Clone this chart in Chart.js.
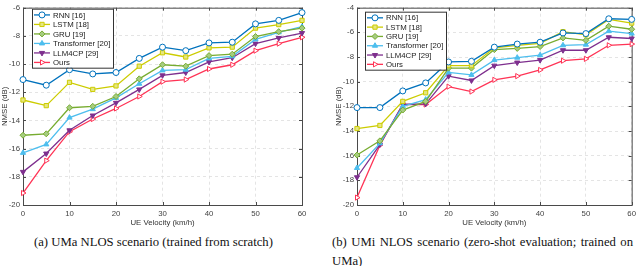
<!DOCTYPE html>
<html>
<head>
<meta charset="utf-8">
<script src="https://cdn.jsdelivr.net/npm/chart.js@4.4.1/dist/chart.umd.min.js"></script>
<style>
  body { margin: 0; background: #fff; width: 640px; height: 266px; overflow: hidden; position: relative; }
  .plot { position: absolute; top: 0; }
  .cap { position: absolute; font-family: "Liberation Serif", "Times New Roman", serif; font-size: 12.7px; line-height: 14px; color: #111; white-space: nowrap; }
</style>
</head>
<body>
<canvas id="uma" class="plot" width="320" height="228" style="left:0"></canvas>
<canvas id="umi" class="plot" width="320" height="228" style="left:320px"></canvas>
<div class="cap" style="left:34px; top:235px;">(a) UMa NLOS scenario (trained from scratch)</div>
<div class="cap" style="left:332px; top:235px; width:301px; text-align:justify; text-align-last:justify;">(b) UMi NLOS scenario (zero-shot evaluation; trained on</div>
<div class="cap" style="left:332px; top:254px;">UMa)</div>
<script>
// data
const velocity = [0, 5, 10, 15, 20, 25, 30, 35, 40, 45, 50, 55, 60];
const seriesNames = ['RNN [16]', 'LSTM [18]', 'GRU [19]', 'Transformer [20]', 'LLM4CP [29]', 'Ours'];

// (a) UMa NLOS
const umaRnn = [-11.1, -11.5, -10.4, -10.7, -10.6, -9.6, -8.8, -9.05, -8.5, -8.45, -7.15, -6.9, -6.35];
const umaLstm = [-12.55, -12.95, -11.3, -11.8, -11.55, -10.15, -9.2, -9.5, -8.85, -8.8, -7.45, -7.2, -6.9];
const umaGru = [-15.05, -14.95, -13.1, -13.0, -12.3, -11.05, -10.05, -10.15, -9.4, -9.3, -8.05, -7.7, -7.45];
const umaTrans = [-16.3, -15.7, -13.8, -13.2, -12.4, -11.4, -10.45, -10.4, -9.6, -9.45, -8.25, -7.75, -7.35];
const umaLlm = [-17.65, -16.35, -14.7, -13.65, -12.75, -11.8, -10.8, -10.6, -9.85, -9.55, -8.55, -8.15, -7.8];
const umaOurs = [-19.15, -16.85, -14.8, -13.9, -13.15, -12.3, -11.25, -11.1, -10.35, -10.05, -9.05, -8.55, -8.1];

// (b) UMi NLOS
const umiRnn = [-12.1, -12.1, -10.75, -10.1, -8.4, -8.35, -7.2, -6.95, -6.8, -6.05, -6.1, -4.9, -4.95];
const umiLstm = [-13.8, -13.55, -11.6, -10.9, -8.7, -8.7, -7.25, -7.05, -6.9, -5.95, -6.2, -4.95, -5.25];
const umiGru = [-15.95, -14.8, -12.3, -11.6, -8.9, -8.9, -7.4, -7.3, -7.15, -6.45, -6.65, -5.5, -5.75];
const umiTrans = [-17.0, -15.0, -12.0, -11.45, -9.25, -9.45, -8.25, -8.05, -7.85, -7.05, -7.0, -5.9, -6.1];
const umiLlm = [-17.75, -15.1, -11.85, -11.8, -9.55, -9.9, -8.7, -8.45, -8.25, -7.45, -7.45, -6.4, -6.5];
const umiOurs = [-19.4, -15.15, -11.85, -11.85, -10.4, -10.8, -9.85, -9.55, -9.05, -8.3, -8.15, -7.05, -6.95];

const colors = ['#0072BD', '#CCCC00', '#77AC30', '#4DBEEE', '#7E2F8E', '#FF3355'];
const fills = ['#ffffff', '#E6E680', '#A6CC80', '#4DBEEE', '#7E2F8E', '#ffffff'];
const styles = ['circle', 'rect', 'rectRot', 'triangle', 'triangle', 'triangle'];
const rotations = [0, 0, 0, 0, 180, 90];

const FONT = '"Liberation Sans", Arial, sans-serif';

function makeSets(series) {
    return series.map((vals, i) => ({
        label: seriesNames[i],
        data: vals.map((v, j) => ({ x: velocity[j], y: v })),
        borderColor: colors[i],
        backgroundColor: fills[i],
        borderWidth: 1.3,
        pointStyle: styles[i],
        pointRotation: rotations[i],
        pointRadius: 3,
        pointBorderWidth: 1,
        pointBackgroundColor: fills[i],
        pointBorderColor: colors[i],
        tension: 0,
        clip: false
    }))
}

// axes box + inward ticks
const frame = {
    id: 'frame',
    beforeDatasetsDraw(chart) {
        const ctx = chart.ctx;
        const a = chart.chartArea;
        ctx.save();
        ctx.strokeStyle = '#4a4a4a';
        ctx.lineWidth = 1;
        ctx.strokeRect(a.left + 0.5, a.top + 0.5, a.right - a.left, a.bottom - a.top);
        const xs = chart.scales.x, ys = chart.scales.y;
        ctx.beginPath();
        xs.ticks.forEach(t => {
            const px = Math.round(xs.getPixelForValue(t.value)) + 0.5;
            ctx.moveTo(px, a.bottom); ctx.lineTo(px, a.bottom - 3);
            ctx.moveTo(px, a.top); ctx.lineTo(px, a.top + 3);
        });
        ys.ticks.forEach(t => {
            const py = Math.round(ys.getPixelForValue(t.value)) + 0.5;
            ctx.moveTo(a.left, py); ctx.lineTo(a.left + 3, py);
            ctx.moveTo(a.right, py); ctx.lineTo(a.right - 3, py);
        });
        ctx.stroke();
        ctx.restore();
    }
};

// legend box inside the axes
const boxLegend = {
    id: 'boxLegend',
    afterDatasetsDraw(chart, args, opts) {
        const ctx = chart.ctx;
        const a = chart.chartArea;
        const x0 = a.left + opts.dx, y0 = a.top + opts.dy;
        const sets = chart.data.datasets;
        ctx.save();
        ctx.font = '7.8px ' + FONT;
        let tw = 0;
        sets.forEach(d => { tw = Math.max(tw, ctx.measureText(d.label).width) });
        const w = Math.round(21 + tw + 3), h = Math.round(sets.length * opts.row + 2);
        ctx.fillStyle = '#fff';
        ctx.fillRect(x0, y0, w, h);
        ctx.strokeStyle = '#333';
        ctx.lineWidth = 1;
        ctx.strokeRect(x0 + 0.5, y0 + 0.5, w, h);
        sets.forEach((d, i) => {
            const cy = y0 + 1.5 + opts.row * (i + 0.5);
            ctx.strokeStyle = d.borderColor;
            ctx.lineWidth = d.borderWidth;
            ctx.beginPath();
            ctx.moveTo(x0 + 2, cy); ctx.lineTo(x0 + 18, cy);
            ctx.stroke();
            ctx.fillStyle = d.pointBackgroundColor;
            ctx.lineWidth = 1;
            Chart.helpers.drawPoint(ctx, {
                pointStyle: d.pointStyle, rotation: d.pointRotation, radius: d.pointRadius, borderWidth: 1
            }, x0 + 10, cy);
            ctx.fillStyle = '#222';
            ctx.textBaseline = 'middle';
            ctx.fillText(d.label, x0 + 21, cy + 0.5);
        });
        ctx.restore();
    }
};

function renderChart(id, series, yMin, yMax, padLeft, padRight, legendPos) {
    const ctx = document.getElementById(id);
    return new Chart(ctx, {
        type: 'line',
        data: { datasets: makeSets(series) },
        options: {
            responsive: false,
            animation: false,
            layout: { padding: { left: padLeft, right: padRight, top: 3, bottom: 0 } },
            plugins: {
                legend: { display: false },
                tooltip: { enabled: false },
                boxLegend: legendPos
            },
            scales: {
                x: {
                    type: 'linear',
                    min: 0,
                    max: 60,
                    afterFit: (s) => { s.height = 23 },
                    ticks: { stepSize: 10, padding: 4, color: '#444', font: { family: FONT, size: 7.8 }, maxRotation: 0 },
                    grid: { color: '#dddddd', drawTicks: false, lineWidth: 0.8 },
                    border: { display: false, dash: [3, 3] },
                    title: { display: true, text: 'UE Velocity (km/h)', color: '#333', font: { family: FONT, size: 7.8 }, padding: 0 }
                },
                y: {
                    min: yMin,
                    max: yMax,
                    afterFit: (s) => { s.width = 23 },
                    ticks: { stepSize: 2, padding: 3, color: '#444', font: { family: FONT, size: 7.8 } },
                    grid: { color: '#dddddd', drawTicks: false, lineWidth: 0.8 },
                    border: { display: false, dash: [3, 3] },
                    title: { display: true, text: 'NMSE (dB)', color: '#333', font: { family: FONT, size: 7.8 }, padding: 0 }
                }
            }
        },
        plugins: [frame, boxLegend]
    })
}

renderChart('uma', [umaRnn, umaLstm, umaGru, umaTrans, umaLlm, umaOurs], -20, -6, 0, 18, { dx: 9, dy: 1, row: 9.5 });
renderChart('umi', [umiRnn, umiLstm, umiGru, umiTrans, umiLlm, umiOurs], -20, -4, 14, 6, { dx: 8, dy: 4, row: 9.3 });
</script>
</body>
</html>
